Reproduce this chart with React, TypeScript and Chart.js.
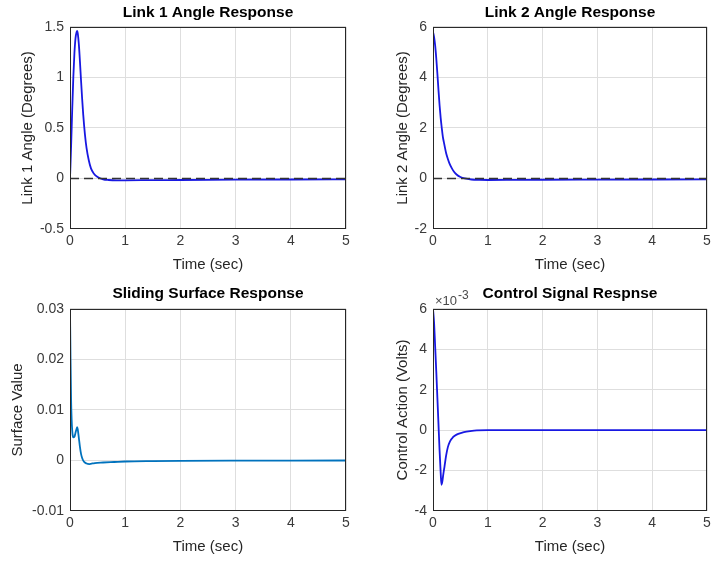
import React, { useEffect, useRef } from "react";
import { Chart, registerables } from "chart.js";

Chart.register(...registerables);

const FONT = "'Liberation Sans', Arial, Helvetica, sans-serif";
const GRID = "#dedede";
const TICK = "#3a3a3a";
const AXIS = "#262626";
const BLUE = "rgb(24,24,226)";
const MATLAB_BLUE = "#0072BD";

// shared time axis
const timeTicks = [0, 1, 2, 3, 4, 5];
const timeTickLabels = ["0", "1", "2", "3", "4", "5"];

// Link 1 angle (degrees)
const link1Time = [0, 0.02, 0.04, 0.06, 0.08, 0.1, 0.12, 0.13, 0.14, 0.16, 0.18, 0.2, 0.22, 0.24, 0.27, 0.3, 0.34, 0.38, 0.43, 0.5, 0.6, 0.7, 0.85, 1.0, 1.5, 2, 3, 4, 5];
const link1Angle = [0, 0.32, 0.68, 1.0, 1.24, 1.39, 1.45, 1.46, 1.44, 1.33, 1.16, 0.97, 0.79, 0.63, 0.44, 0.3, 0.18, 0.1, 0.05, 0.015, -0.008, -0.015, -0.018, -0.018, -0.016, -0.015, -0.012, -0.01, -0.009];
const link1Ticks = [-0.5, 0, 0.5, 1, 1.5];
const link1TickLabels = ["-0.5", "0", "0.5", "1", "1.5"];

// Link 2 angle (degrees)
const link2Time = [0, 0.02, 0.04, 0.06, 0.08, 0.1, 0.12, 0.14, 0.16, 0.18, 0.2, 0.22, 0.24, 0.27, 0.3, 0.34, 0.38, 0.43, 0.5, 0.58, 0.7, 0.85, 1.0, 1.5, 2, 3, 4, 5];
const link2Angle = [5.8, 5.6, 5.25, 4.75, 4.15, 3.5, 2.9, 2.4, 2.0, 1.65, 1.42, 1.2, 1.0, 0.78, 0.6, 0.42, 0.28, 0.16, 0.06, 0.0, -0.04, -0.055, -0.06, -0.055, -0.05, -0.045, -0.04, -0.035];
const link2Ticks = [-2, 0, 2, 4, 6];
const link2TickLabels = ["-2", "0", "2", "4", "6"];

// desired (reference) angle, dashed line
const referenceTime = [0, 5];
const referenceAngle = [0, 0];

// Sliding surface
const slideTime = [0, 0.01, 0.02, 0.03, 0.04, 0.05, 0.06, 0.08, 0.1, 0.12, 0.13, 0.14, 0.16, 0.18, 0.2, 0.22, 0.25, 0.3, 0.35, 0.45, 0.6, 0.8, 1.0, 1.5, 2, 3, 4, 5];
const slideValue = [0.0298, 0.02, 0.012, 0.008, 0.006, 0.0049, 0.0046, 0.0047, 0.0055, 0.0063, 0.0066, 0.0062, 0.0045, 0.0027, 0.0013, 0.0005, -0.0002, -0.0006, -0.0007, -0.0005, -0.0004, -0.0003, -0.0002, -0.00012, -0.00008, -0.00004, -0.00002, 0];
const slideTicks = [-0.01, 0, 0.01, 0.02, 0.03];
const slideTickLabels = ["-0.01", "0", "0.01", "0.02", "0.03"];

// Control signal (volts)
const ctrlTime = [0, 0.02, 0.04, 0.06, 0.08, 0.1, 0.12, 0.14, 0.155, 0.17, 0.19, 0.21, 0.24, 0.27, 0.31, 0.36, 0.43, 0.52, 0.61, 0.75, 1.0, 2, 3, 4, 5];
const ctrlValue = [0.006, 0.0053, 0.0041, 0.0029, 0.0016, 0.0003, -0.001, -0.0021, -0.0027, -0.00255, -0.00215, -0.0018, -0.00125, -0.00085, -0.00055, -0.00036, -0.00022, -0.00013, -0.00007, -0.00002, 0, 0, 0, 0, 0];
const ctrlTicks = [-0.004, -0.002, 0, 0.002, 0.004, 0.006];
const ctrlTickLabels = ["-4", "-2", "0", "2", "4", "6"];
const ctrlExponentBase = "×10";
const ctrlExponent = "-3";

const toPoints = (xs: number[], ys: number[]) => xs.map((x, i) => ({ x, y: ys[i] }));

const framePlugin = {
  id: "frame",
  afterDatasetsDraw(chart: any) {
    const { ctx, chartArea: a } = chart;
    ctx.save();
    ctx.strokeStyle = AXIS;
    ctx.lineWidth = 1;
    ctx.strokeRect(a.left + 0.5, a.top + 0.5, a.right - a.left - 1, a.bottom - a.top - 1);
    ctx.restore();
  },
};

const multiplierPlugin = {
  id: "multiplier",
  afterDraw(chart: any) {
    const { ctx, chartArea: a } = chart;
    ctx.save();
    ctx.fillStyle = "#4a4a4a";
    ctx.textAlign = "left";
    ctx.textBaseline = "alphabetic";
    ctx.font = `13px ${FONT}`;
    ctx.fillText(ctrlExponentBase, a.left + 2, a.top - 3.5);
    const w = ctx.measureText(ctrlExponentBase).width;
    ctx.font = `12px ${FONT}`;
    ctx.fillText(ctrlExponent, a.left + 2 + w + 1, a.top - 9.5);
    ctx.restore();
  },
};

const lineDs = (data: any[], color: string, width = 1.8) => ({
  data,
  borderColor: color,
  backgroundColor: color,
  borderWidth: width,
  pointRadius: 0,
  fill: false,
  cubicInterpolationMode: "monotone" as const,
});

const dashedDs = () => ({
  data: toPoints(referenceTime, referenceAngle),
  borderColor: "#333333",
  borderWidth: 1.6,
  borderDash: [9, 5],
  pointRadius: 0,
  fill: false,
});

type Panel = {
  left: number;
  top: number;
  w: number;
  h: number;
  title: string;
  yTitle: string;
  yMin: number;
  yMax: number;
  yTicks: number[];
  yTickLabels: string[];
  datasets: any[];
  yWidth: number;
  xHeight: number;
  padRight: number;
  titleTop: number;
  titleBottom: number;
  yTitlePad: number;
  xTitlePad: number;
  extra: any[];
};

const panels: Panel[] = [
  {
    left: 0, top: 0, w: 355, h: 280,
    title: "Link 1 Angle Response",
    yTitle: "Link 1 Angle (Degrees)",
    yMin: -0.5, yMax: 1.5, yTicks: link1Ticks, yTickLabels: link1TickLabels,
    datasets: [dashedDs(), lineDs(toPoints(link1Time, link1Angle), BLUE)],
    yWidth: 70, xHeight: 51, padRight: 9, titleTop: 4, titleBottom: 5, yTitlePad: 18.5, xTitlePad: 6.5,
    extra: [],
  },
  {
    left: 355, top: 0, w: 356, h: 280,
    title: "Link 2 Angle Response",
    yTitle: "Link 2 Angle (Degrees)",
    yMin: -2, yMax: 6, yTicks: link2Ticks, yTickLabels: link2TickLabels,
    datasets: [dashedDs(), lineDs(toPoints(link2Time, link2Angle), BLUE)],
    yWidth: 78, xHeight: 51, padRight: 4, titleTop: 4, titleBottom: 5, yTitlePad: 38.5, xTitlePad: 6.5,
    extra: [],
  },
  {
    left: 0, top: 280, w: 355, h: 281,
    title: "Sliding Surface Response",
    yTitle: "Surface Value",
    yMin: -0.01, yMax: 0.03, yTicks: slideTicks, yTickLabels: slideTickLabels,
    datasets: [lineDs(toPoints(slideTime, slideValue), MATLAB_BLUE)],
    yWidth: 70, xHeight: 50, padRight: 9, titleTop: 5, titleBottom: 6, yTitlePad: 9.3, xTitlePad: 5,
    extra: [],
  },
  {
    left: 355, top: 280, w: 356, h: 281,
    title: "Control Signal Respnse",
    yTitle: "Control Action (Volts)",
    yMin: -0.004, yMax: 0.006, yTicks: ctrlTicks, yTickLabels: ctrlTickLabels,
    datasets: [lineDs(toPoints(ctrlTime, ctrlValue), BLUE)],
    yWidth: 78, xHeight: 50, padRight: 4, titleTop: 5, titleBottom: 6, yTitlePad: 38.5, xTitlePad: 5,
    extra: [multiplierPlugin],
  },
];

function buildConfig(p: Panel): any {
  return {
    type: "line",
    data: { datasets: p.datasets },
    options: {
      animation: false,
      responsive: false,
      maintainAspectRatio: false,
      devicePixelRatio: 1,
      events: [],
      layout: { padding: { left: 0, top: 0, right: p.padRight, bottom: 0 }, autoPadding: false },
      plugins: {
        legend: { display: false },
        tooltip: { enabled: false },
        title: {
          display: true,
          text: p.title,
          fullSize: false,
          color: "#000000",
          font: { family: FONT, size: 15.5, weight: "bold", lineHeight: 1.16 },
          padding: { top: p.titleTop, bottom: p.titleBottom },
        },
      },
      scales: {
        x: {
          type: "linear",
          min: 0,
          max: 5,
          afterBuildTicks: (s: any) => {
            s.ticks = timeTicks.map((v) => ({ value: v }));
          },
          afterFit: (s: any) => {
            s.height = p.xHeight;
            s.paddingLeft = 0;
            s.paddingRight = 0;
          },
          grid: { color: GRID, lineWidth: 1, drawTicks: false },
          border: { display: false },
          ticks: {
            autoSkip: false,
            maxRotation: 0,
            padding: 4,
            color: TICK,
            font: { family: FONT, size: 14, lineHeight: 1.2 },
            callback: (_v: any, i: number) => timeTickLabels[i],
          },
          title: {
            display: true,
            text: "Time (sec)",
            color: AXIS,
            font: { family: FONT, size: 15, lineHeight: 1.2 },
            padding: { top: 0, bottom: p.xTitlePad },
          },
        },
        y: {
          type: "linear",
          min: p.yMin,
          max: p.yMax,
          afterBuildTicks: (s: any) => {
            s.ticks = p.yTicks.map((v) => ({ value: v }));
          },
          afterFit: (s: any) => {
            s.width = p.yWidth;
            s.paddingTop = 0;
            s.paddingBottom = 0;
          },
          grid: { color: GRID, lineWidth: 1, drawTicks: false },
          border: { display: false },
          ticks: {
            autoSkip: false,
            padding: 6,
            color: TICK,
            font: { family: FONT, size: 14, lineHeight: 1.2 },
            callback: (_v: any, i: number) => p.yTickLabels[i],
          },
          title: {
            display: true,
            text: p.yTitle,
            color: AXIS,
            font: { family: FONT, size: 15, lineHeight: 1.2 },
            padding: { top: p.yTitlePad, bottom: 0 },
          },
        },
      },
    },
    plugins: [framePlugin, ...p.extra],
  };
}

function PanelChart({ p }: { p: Panel }) {
  const ref = useRef<HTMLCanvasElement | null>(null);
  useEffect(() => {
    if (!ref.current) return;
    const chart = new Chart(ref.current, buildConfig(p));
    return () => chart.destroy();
  }, [p]);
  return (
    <canvas
      ref={ref}
      width={p.w}
      height={p.h}
      style={{ position: "absolute", left: p.left, top: p.top, width: p.w, height: p.h, display: "block" }}
    />
  );
}

export default function App() {
  return (
    <div style={{ position: "absolute", left: 0, top: 0, width: 711, height: 561, background: "#ffffff", overflow: "hidden" }}>
      {panels.map((p, i) => (
        <PanelChart key={i} p={p} />
      ))}
    </div>
  );
}
